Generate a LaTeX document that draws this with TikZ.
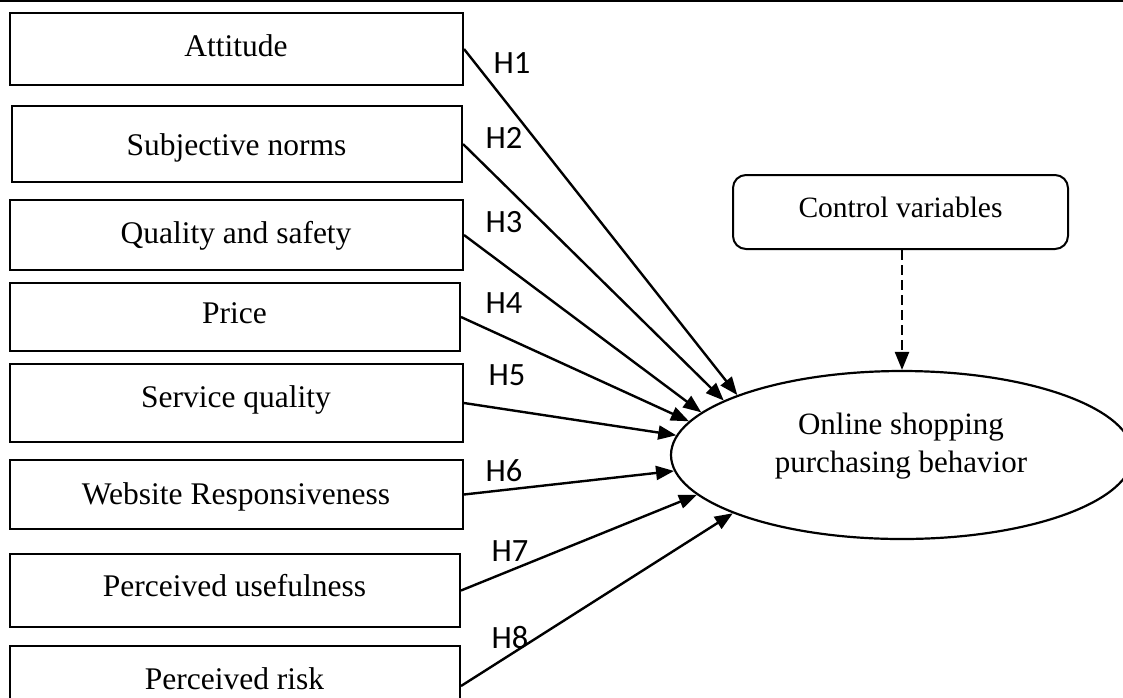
\documentclass[tikz,border=0pt]{standalone}
\usepackage{fontspec}
\setmainfont{Liberation Serif}
\newfontfamily\hfont{Carlito}
\usetikzlibrary{arrows.meta,shapes.geometric}
\begin{document}
\begin{tikzpicture}[x=1pt,y=-1pt,
  varbox/.style={draw, rectangle, line width=2pt, inner sep=0pt},
  btext/.style={anchor=base, inner sep=0pt, font=\fontsize{31.5}{38}\selectfont},
  hlab/.style={anchor=base, inner sep=0pt, font=\hfont\fontsize{32.5}{38}\selectfont},
  arr/.style={line width=2.4pt, -{Triangle[length=18pt,width=14pt]}},
]
\useasboundingbox (0,0) rectangle (1123,697);
\draw[line width=2pt] (0,1) -- (1123,1);

% boxes
\node[varbox, minimum width=453pt, minimum height=72pt] (b1) at (236.5,49) {};
\node[varbox, minimum width=450pt, minimum height=76pt] (b2) at (237,144) {};
\node[varbox, minimum width=453pt, minimum height=70pt] (b3) at (236.5,235) {};
\node[varbox, minimum width=450pt, minimum height=68pt] (b4) at (235,317) {};
\node[varbox, minimum width=453pt, minimum height=78pt] (b5) at (236.5,403) {};
\node[varbox, minimum width=453pt, minimum height=69pt] (b6) at (236.5,494.5) {};
\node[varbox, minimum width=450pt, minimum height=73pt] (b7) at (235,590.5) {};
\node[varbox, minimum width=450pt, minimum height=80pt] (b8) at (235,686) {};

% box texts
\node[btext] (t1) at (236,56) {Attitude};
\node[btext] (t2) at (236.5,155) {Subjective norms};
\node[btext] (t3) at (236,243) {Quality and safety};
\node[btext] (t4) at (234.5,323) {Price};
\node[btext] (t5) at (236,407) {Service quality};
\node[btext] (t6) at (236,504) {Website Responsiveness};
\node[btext] (t7) at (234.5,596) {Perceived usefulness};
\node[btext] (t8) at (234.5,689) {Perceived risk};

% outcome
\node[draw, ellipse, line width=2.2pt, minimum width=462pt, minimum height=168pt, inner sep=0pt] (oval) at (902,455) {};
\node[inner sep=0pt, align=center, font=\fontsize{31}{38}\selectfont] (otext) at (901,446) {Online shopping\\purchasing behavior};

% control variables
\node[draw, rectangle, rounded corners=13pt, line width=2pt, minimum width=335pt, minimum height=74pt, inner sep=0pt] (ctrl) at (900.5,212) {};
\node[btext, font=\fontsize{29.5}{35}\selectfont] (ctext) at (900.5,217) {Control variables};

% connectors
\draw[arr] (b1.east) -- (oval.160);
\draw[arr] (b2.east) -- (oval.163.6);
\draw[arr] (b3.east) -- (oval.168);
\draw[arr] (b4.east) -- (oval.171.5);
\draw[arr] (b5.east) -- (oval.175.5);
\draw[arr] (b6.east) -- (oval.184.5);
\draw[arr] (b7.east) -- (oval.191.1);
\draw[arr] (b8.east) -- (oval.199.7);
\draw[arr, dash pattern=on 10pt off 5pt] (ctrl.south -| oval.north) -- (oval.north);

% hypothesis labels
\node[hlab] (h1) at (512,73) {H1};
\node[hlab] (h2) at (504,148) {H2};
\node[hlab] (h3) at (504,232) {H3};
\node[hlab] (h4) at (504,313) {H4};
\node[hlab] (h5) at (507,385) {H5};
\node[hlab] (h6) at (504,481) {H6};
\node[hlab] (h7) at (510,561) {H7};
\node[hlab] (h8) at (510,648) {H8};
\end{tikzpicture}
\end{document}
